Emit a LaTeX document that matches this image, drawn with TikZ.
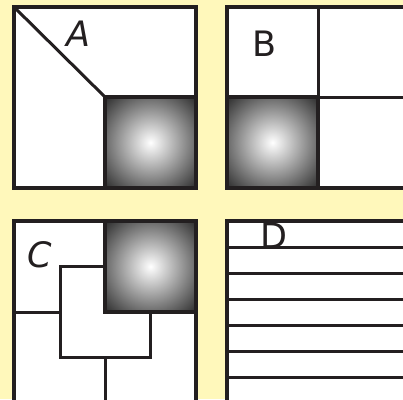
\documentclass[tikz,border=0pt]{standalone}
\usepackage{fontspec}
\setmainfont{DejaVu Sans}
\usepackage{tikz}
\usetikzlibrary{positioning,calc}
\definecolor{paper}{RGB}{255,248,187}
\definecolor{ink}{RGB}{35,31,32}

% shaded square hole: #1,#2 = upper left corner, side 91
\newcommand{\holebox}[2]{%
  \begin{scope}
    \clip (#1,#2) rectangle ++(91,91);
    \shade[inner color=white, outer color=black!85] ($(#1,#2)+(45.5,45.5)$) circle (66);
  \end{scope}
  \draw[hole] (#1,#2) rectangle ++(91,91);}

\begin{document}
\begin{tikzpicture}[
    x=1pt, y=-1pt,
    panel/.style={draw=ink, line width=3.4pt, fill=white},
    cut/.style={draw=ink, line width=3pt},
    hole/.style={draw=ink, line width=3.4pt},
    tag/.style={font=\fontsize{35}{35}\selectfont, text=ink}
]
\useasboundingbox (0,0) rectangle (403,399);
\fill[paper] (0,0) rectangle (403,399);
\clip (0,0) rectangle (403,399);

% panel A
\draw[panel] (14,7) rectangle (196,188);
\draw[cut] (14,7) -- (105,97);
\holebox{105}{97}
\node[tag, font=\fontsize{35}{35}\selectfont\itshape] (labA) at (78,34) {A};

% panel B
\fill[white] (227,7) rectangle (410,188);
\draw[panel, fill=none] (410,7) -- (227,7) -- (227,188) -- (410,188);
\draw[cut] (318,7) -- (318,188);
\draw[cut] (227,97) -- (410,97);
\holebox{227}{97}
\node[tag] (labB) at (264,44) {B};

% panel C
\fill[white] (14,221) rectangle (196,410);
\draw[panel, fill=none] (14,410) -- (14,221) -- (196,221) -- (196,410);
\draw[cut] (14,312) -- (60,312);
\draw[cut] (105,266) -- (60,266) -- (60,357) -- (150,357) -- (150,312);
\draw[cut] (105,357) -- (105,410);
\holebox{105}{221}
\node[tag, font=\fontsize{35}{35}\selectfont\itshape] (labC) at (40,255) {C};

% panel D
\fill[white] (227,221) rectangle (410,410);
\draw[panel, fill=none] (227,410) -- (227,221) -- (410,221);
\node[tag] (labD) at (274,236) {D};
\foreach \y in {247,273,299,325,351,377}
    \draw[cut] (227,\y) -- (410,\y);
\end{tikzpicture}
\end{document}
